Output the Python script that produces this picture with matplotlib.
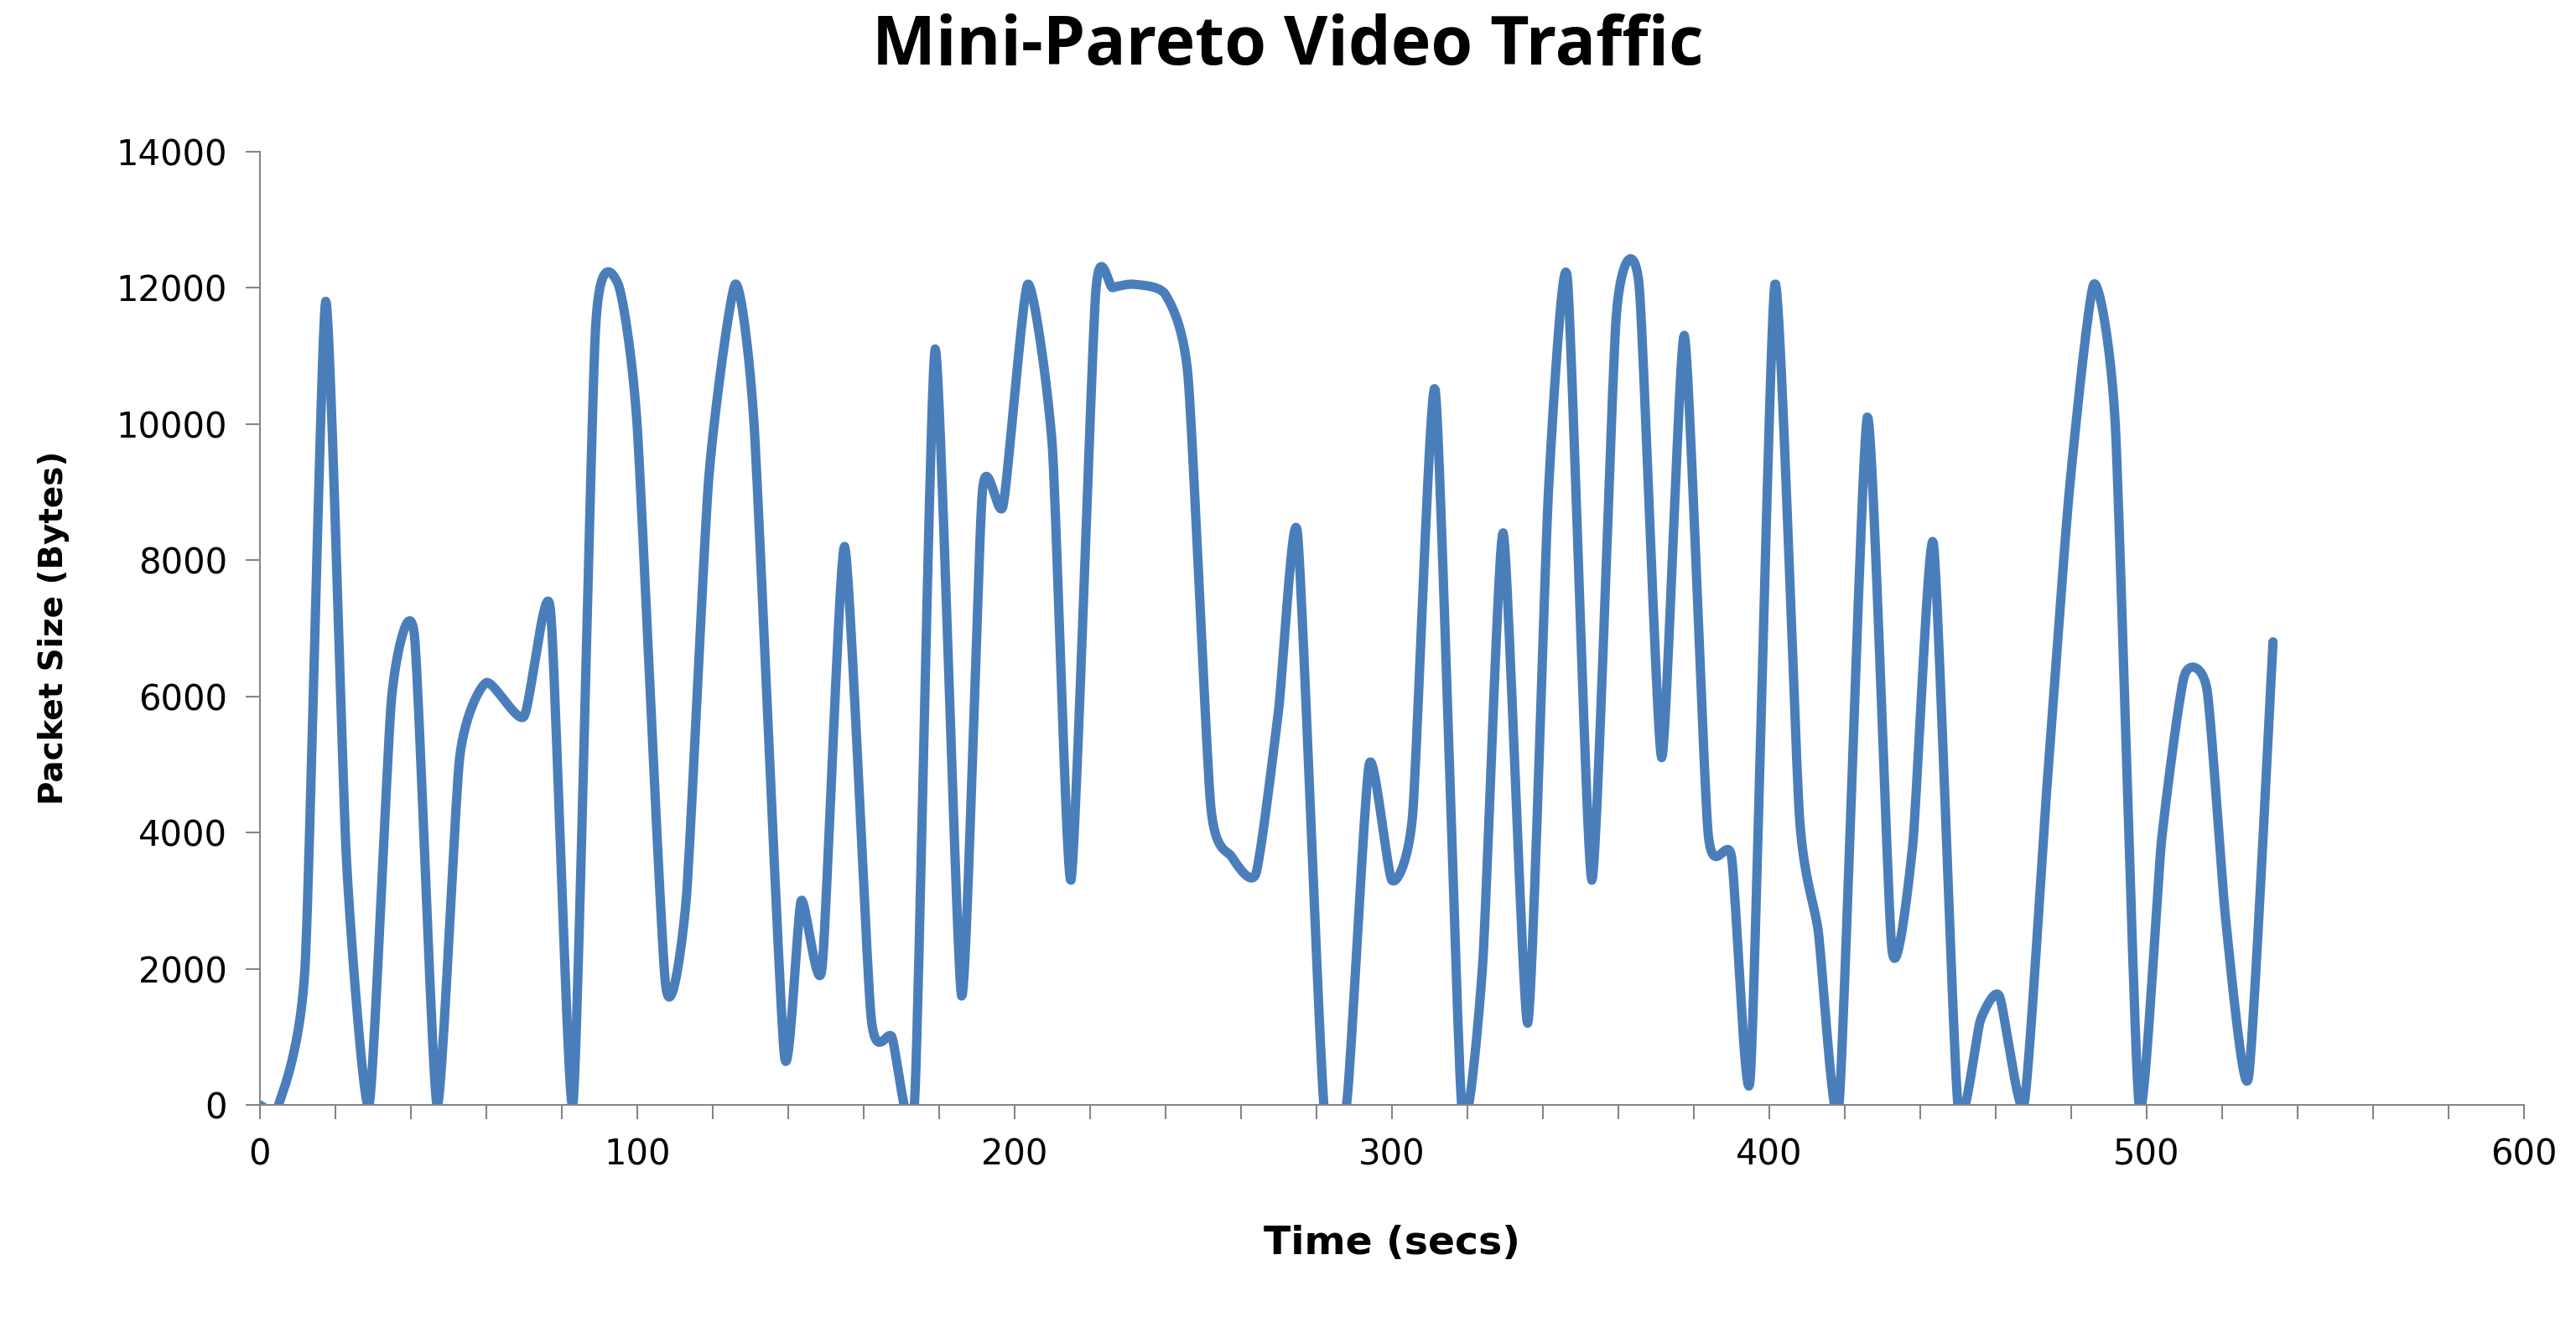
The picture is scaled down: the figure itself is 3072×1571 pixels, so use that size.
import numpy as np
import matplotlib
matplotlib.use('Agg')
import matplotlib.pyplot as plt

# Key points (secs, bytes); Excel-style smoothed line
time_s = [0, 5, 12, 17.5, 23, 29, 35, 41, 47, 53, 60, 70, 77, 83, 89, 95, 100,
          107.5, 113, 119, 126, 131, 139, 143.5, 149, 155, 162, 167.5, 173.5,
          179, 186, 191.5, 197, 203.5, 210, 215, 221.5, 226, 231.5, 240, 246,
          252, 257.5, 264, 270, 275, 282, 288, 294, 300, 305.5, 311.5, 318.5,
          324, 329.5, 336, 341.5, 346.5, 353, 359.5, 365.5, 371.5, 377.5,
          383.8, 390, 395, 401.5, 408, 413, 418.5, 426, 432.5, 438, 443.5,
          450, 456, 461, 467.5, 473.5, 479.5, 486, 491.7, 498, 504, 510, 516,
          521, 527, 533.5]
packet_bytes = [0, 0, 2000, 11800, 3600, 0, 6000, 6900, 0, 5100, 6200, 5700,
                7300, 0, 11400, 12050, 10000, 1800, 3000, 9200, 12050, 10000,
                750, 3000, 2000, 8200, 1300, 1000, 0, 11100, 1600, 9000, 8800,
                12050, 9700, 3300, 11900, 12000, 12050, 11900, 10700, 4400,
                3650, 3400, 5800, 8400, 0, 0, 5000, 3300, 4250, 10500, 0, 2000,
                8400, 1200, 9000, 12150, 3300, 11600, 12050, 5100, 11300, 4000,
                3650, 400, 12050, 4250, 2550, 0, 10100, 2300, 3800, 8250, 0,
                1250, 1600, 0, 4600, 9000, 12050, 10000, 0, 3900, 6300, 6100,
                2700, 400, 6800]


def smooth(x, y, n=20, k=0.6):
    # Cardinal-spline drawing of the line, like Excel's "smoothed line"
    x = np.asarray(x, float)
    y = np.asarray(y, float)
    px = np.concatenate([[x[0]], x, [x[-1]]])
    py = np.concatenate([[y[0]], y, [y[-1]]])
    t = np.linspace(0, 1, n, endpoint=False)[:, None]
    out_x, out_y = [], []
    for i in range(1, len(px) - 2):
        for arr, out in ((px, out_x), (py, out_y)):
            p0, p1, p2, p3 = arr[i - 1], arr[i], arr[i + 1], arr[i + 2]
            m1 = (p2 - p0) / 2 * k
            m2 = (p3 - p1) / 2 * k
            h00 = 2 * t**3 - 3 * t**2 + 1
            h10 = t**3 - 2 * t**2 + t
            h01 = -2 * t**3 + 3 * t**2
            h11 = t**3 - t**2
            out.extend((h00 * p1 + h10 * m1 + h01 * p2 + h11 * m2).ravel())
    out_x.append(x[-1])
    out_y.append(y[-1])
    return np.array(out_x), np.array(out_y)


fig = plt.figure(figsize=(30.72, 15.71), dpi=100)
ax = fig.add_axes([0.1008, 0.161, 0.879, 0.724])

sx, sy = smooth(time_s, packet_bytes)
ax.plot(sx, sy, color='#4A7EBB', lw=8, solid_capstyle='round',
        solid_joinstyle='round')

ax.set_xlim(0, 600)
ax.set_ylim(0, 14000)
ax.set_xticks(range(0, 601, 100))
ax.set_xticks(range(0, 601, 20), minor=True)
ax.set_yticks(range(0, 14001, 2000))
for s in ('top', 'right'):
    ax.spines[s].set_visible(False)
for s in ('left', 'bottom'):
    ax.spines[s].set_color('#868686')
    ax.spines[s].set_linewidth(1.5)
ax.tick_params(which='both', direction='out', color='#868686', width=1.5)
ax.tick_params(which='major', length=12, labelsize=30, pad=16)
ax.tick_params(which='minor', length=12)

ax.set_xlabel('Time (secs)', fontsize=34, fontweight='bold', labelpad=45)
ax.set_ylabel('Packet Size (Bytes)', fontsize=28, fontweight='bold', labelpad=40)
fig.suptitle('Mini-Pareto Video Traffic', fontsize=58, fontweight='bold',
             family='Open Sans', y=0.99)

fig.savefig('out.png', dpi=100)
